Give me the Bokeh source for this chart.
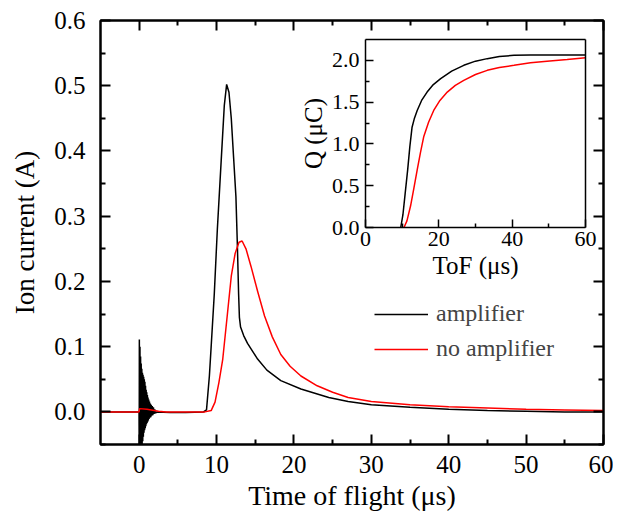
from bokeh.plotting import figure
from bokeh.models import (Range1d, LinearAxis, FixedTicker, NumeralTickFormatter,
                          Legend, LegendItem)
from bokeh.embed import file_html
from bokeh.resources import INLINE

# ---------------- data ----------------
# main panel: ion current (A) vs time of flight (us)
amp_t = [-5.0, -0.02,
         0.0, 0.02, 0.06, 0.10, 0.14, 0.18, 0.22, 0.26, 0.30, 0.34, 0.38, 0.42, 0.46, 0.50,
         0.54, 0.58, 0.62, 0.66, 0.70, 0.74, 0.78, 0.82, 0.86, 0.90, 0.94, 0.98, 1.02, 1.06,
         1.10, 1.14, 1.18, 1.23, 1.28, 1.33, 1.38, 1.44, 1.50, 1.56, 1.62, 1.69, 1.76, 1.84,
         1.92, 2.01, 2.10, 2.25,
         4.0, 6.0, 8.3, 8.7, 9.07, 9.3, 9.7, 10.1, 10.6, 11.0, 11.3, 11.6, 11.9, 12.2, 12.5,
         12.7, 12.85, 12.95, 13.1, 13.5, 14.0, 15.3, 16.5, 18.3, 20.9, 24.5, 27.0, 30.0,
         35.0, 40.0, 45.0, 50.0, 55.0, 60.0]
amp_i = [0.0, 0.0,
         -0.07, 0.111, -0.07, 0.100, -0.065, 0.085, -0.06, 0.074, -0.055, 0.066, -0.05, 0.06,
         -0.045, 0.057, -0.038, 0.054, -0.032, 0.05, -0.028, 0.046, -0.025, 0.04, -0.022,
         0.034, -0.019, 0.03, -0.017, 0.026, -0.015, 0.022, -0.013, 0.019, -0.011, 0.016,
         -0.009, 0.013, -0.008, 0.011, -0.006, 0.009, -0.005, 0.007, -0.003, 0.004, -0.002, 0.0,
         -0.001, -0.001, 0.0, 0.003, 0.055, 0.10, 0.18, 0.28, 0.386, 0.47, 0.502, 0.49, 0.45,
         0.39, 0.33, 0.25, 0.18, 0.145, 0.13, 0.117, 0.105, 0.081, 0.064, 0.048, 0.035,
         0.022, 0.016, 0.011, 0.007, 0.004, 0.002, 0.001, 0.0, 0.0]

noamp_t = [-5.0, -0.02, 0.05, 1.0, 2.5, 3.5, 8.5, 9.3, 9.8, 10.3, 10.8, 11.4, 11.9, 12.4,
           12.9, 13.3, 13.8, 14.45, 15.3, 16.2, 17.2, 18.3, 19.5, 20.9, 23.0, 25.0, 27.0,
           30.0, 35.0, 40.0, 45.0, 50.0, 55.0, 60.0]
noamp_i = [0.0, 0.0, 0.005, 0.004, 0.001, 0.0, 0.0, 0.002, 0.015, 0.045, 0.081, 0.15,
           0.208, 0.243, 0.26, 0.262, 0.25, 0.223, 0.185, 0.147, 0.115, 0.088, 0.07, 0.055,
           0.04, 0.03, 0.022, 0.016, 0.011, 0.008, 0.006, 0.004, 0.003, 0.002]

# inset: collected charge Q (uC) vs ToF (us)
q_amp_t = [9.6, 10.2, 10.8, 11.5, 12.1, 12.7, 13.3, 14.1, 15.3, 16.8, 18.5, 20.5, 23.5,
           26.8, 30.0, 33.2, 36.5, 40.5, 45.0, 50.0, 60.0]
q_amp = [0.0, 0.15, 0.40, 0.69, 0.97, 1.20, 1.30, 1.40, 1.52, 1.62, 1.71, 1.78, 1.87,
         1.94, 1.99, 2.02, 2.045, 2.06, 2.065, 2.065, 2.065]
q_noamp_t = [10.5, 11.3, 12.3, 13.2, 14.1, 15.0, 15.9, 17.2, 18.6, 20.3, 22.3, 24.5, 26.8,
             30.0, 33.2, 36.5, 40.5, 45.0, 49.5, 55.0, 60.0]
q_noamp = [0.0, 0.08, 0.26, 0.47, 0.69, 0.90, 1.09, 1.26, 1.40, 1.52, 1.62, 1.70, 1.76,
           1.83, 1.88, 1.915, 1.94, 1.97, 1.99, 2.01, 2.03]

series_names = ["amplifier", "no amplifier"]
x_title = "Time of flight (\u03bcs)"
y_title = "Ion current (A)"
ix_title = "ToF (\u03bcs)"
iy_title = "Q (\u03bcC)"

# tick positions
x_ticks = [0, 10, 20, 30, 40, 50, 60]
x_minor = [5, 15, 25, 35, 45, 55]
y_ticks = [0.0, 0.1, 0.2, 0.3, 0.4, 0.5, 0.6]
y_minor = [-0.05, 0.05, 0.15, 0.25, 0.35, 0.45, 0.55]
ix_ticks = [0, 20, 40, 60]
ix_minor = [10, 30, 50]
iy_ticks = [0.0, 0.5, 1.0, 1.5, 2.0]
iy_minor = [0.25, 0.75, 1.25, 1.75]

# ---------------- layout constants ----------------
FONT = "Liberation Serif"
W, H = 613, 513
BL, BR, BT, BB = 100, 10, 20, 67          # frame borders inside the figure
X0, X1, Y0, Y1 = -5, 60, -0.05, 0.6       # main ranges
FW, FH = W - BL - BR, H - BT - BB         # frame size in px
# inset box (px, relative to frame top-left) and its data limits
IL, IR, IT, IB = 265, 485, 19, 208
IX0, IX1, IY0, IY1 = 0, 60, 0, 2.25
sx = (IR - IL) / (IX1 - IX0)
sy = (IB - IT) / (IY1 - IY0)
ix_range = Range1d(IX0 - IL / sx, IX1 + (FW - IR) / sx)
iy_range = Range1d(IY0 - (FH - IB) / sy, IY1 + IT / sy)

p = figure(width=W, height=H, x_range=Range1d(X0, X1), y_range=Range1d(Y0, Y1),
           output_backend="svg", toolbar_location=None,
           x_axis_type=None, y_axis_type=None,
           min_border_left=BL, min_border_right=BR, min_border_top=BT, min_border_bottom=BB)
p.grid.visible = False
p.outline_line_color = "black"
p.outline_line_width = 2
p.background_fill_color = "white"
p.border_fill_color = "white"
p.extra_x_ranges = {"ix": ix_range}
p.extra_y_ranges = {"iy": iy_range}


def style(ax, size, tick_in, minor_in, labels=True, lw=2):
    ax.axis_line_width = lw
    ax.axis_line_color = "black"
    ax.major_tick_in = tick_in
    ax.major_tick_out = 0
    ax.minor_tick_in = minor_in
    ax.minor_tick_out = 0
    ax.major_tick_line_width = lw
    ax.minor_tick_line_width = lw
    ax.major_tick_line_color = "black"
    ax.minor_tick_line_color = "black"
    ax.major_label_text_font = FONT
    ax.major_label_text_color = "black"
    ax.axis_label_text_font = FONT
    ax.axis_label_text_font_style = "normal"
    ax.axis_label_text_color = "black"
    if labels:
        ax.major_label_text_font_size = size
    else:
        ax.major_label_text_font_size = "0px"
        ax.major_label_standoff = 0


# main axes
xb = LinearAxis(ticker=FixedTicker(ticks=x_ticks, minor_ticks=x_minor))
style(xb, "25px", 10, 5)
xb.axis_label = x_title
xb.axis_label_text_font_size = "28px"
xb.major_label_standoff = 11
xb.axis_label_standoff = 4
p.add_layout(xb, "below")

xt = LinearAxis(ticker=FixedTicker(ticks=x_ticks, minor_ticks=x_minor))
style(xt, "0px", 10, 5, labels=False)
p.add_layout(xt, "above")

yl = LinearAxis(ticker=FixedTicker(ticks=y_ticks, minor_ticks=y_minor),
                formatter=NumeralTickFormatter(format="0.0"))
style(yl, "25px", 10, 5)
yl.axis_label = y_title
yl.axis_label_text_font_size = "27px"
yl.major_label_standoff = 15
yl.axis_label_standoff = 11
p.add_layout(yl, "left")

yr = LinearAxis(ticker=FixedTicker(ticks=y_ticks, minor_ticks=y_minor))
style(yr, "0px", 10, 5, labels=False)
p.add_layout(yr, "right")

# main curves
r_amp = p.line(amp_t, amp_i, line_color="black", line_width=1.5)
r_noamp = p.line(noamp_t, noamp_i, line_color="#ff0000", line_width=1.5)

legend = Legend(items=[LegendItem(label=series_names[0], renderers=[r_amp]),
                       LegendItem(label=series_names[1], renderers=[r_noamp])],
                location=(274, 82), padding=0, margin=0, spacing=8,
                glyph_width=54, glyph_height=20, label_standoff=8,
                label_text_font=FONT, label_text_font_size="24px",
                border_line_alpha=0, background_fill_alpha=0)
p.add_layout(legend)

# inset axes (drawn at fixed locations inside the main frame)
ixb = LinearAxis(x_range_name="ix", y_range_name="iy", fixed_location=IY0, bounds=(IX0, IX1),
                 ticker=FixedTicker(ticks=ix_ticks, minor_ticks=ix_minor))
style(ixb, "22px", 8, 4, lw=1.5)
ixb.axis_label = ix_title
ixb.axis_label_text_font_size = "25px"
ixb.major_label_standoff = 4
ixb.axis_label_standoff = 3
p.add_layout(ixb, "below")

iyl = LinearAxis(x_range_name="ix", y_range_name="iy", fixed_location=IX0, bounds=(IY0, IY1),
                 ticker=FixedTicker(ticks=iy_ticks, minor_ticks=iy_minor),
                 formatter=NumeralTickFormatter(format="0.0"))
style(iyl, "22px", 8, 4, lw=1.5)
iyl.axis_label = iy_title
iyl.axis_label_text_font_size = "25px"
iyl.major_label_standoff = 6
iyl.axis_label_standoff = 2
p.add_layout(iyl, "left")

ixt = LinearAxis(x_range_name="ix", y_range_name="iy", fixed_location=IY1, bounds=(IX0, IX1))
style(ixt, "0px", 0, 0, labels=False, lw=1.5)
p.add_layout(ixt, "above")

iyr = LinearAxis(x_range_name="ix", y_range_name="iy", fixed_location=IX1, bounds=(IY0, IY1))
style(iyr, "0px", 0, 0, labels=False, lw=1.5)
p.add_layout(iyr, "right")

p.line(q_amp_t, q_amp, x_range_name="ix", y_range_name="iy", line_color="black", line_width=1.5)
p.line(q_noamp_t, q_noamp, x_range_name="ix", y_range_name="iy", line_color="#ff0000", line_width=1.5)

open("out.html", "w").write(file_html(p, INLINE))
